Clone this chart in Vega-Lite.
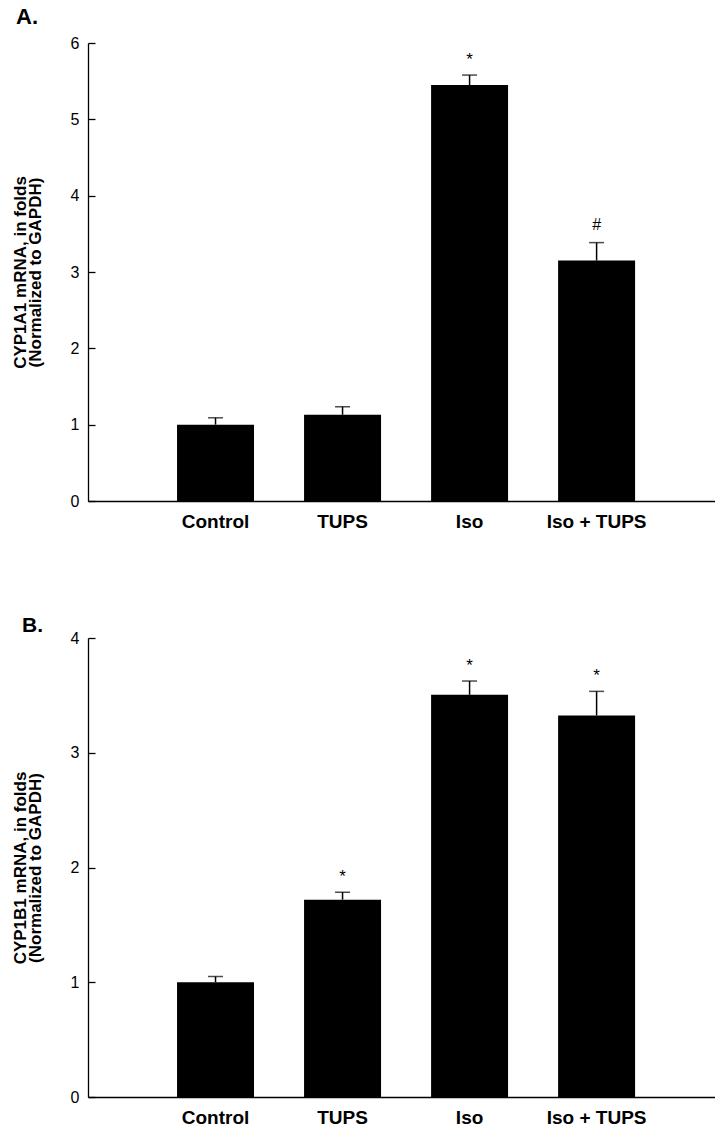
{
  "$schema": "https://vega.github.io/schema/vega-lite/v6.json",
  "background": "white",
  "padding": {"left": 11, "top": 6, "right": 0, "bottom": 0},
  "spacing": 84,
  "config": {
    "font": "Liberation Sans",
    "view": {"stroke": null},
    "axis": {"grid": false, "domainColor": "black", "domainWidth": 1.3, "tickColor": "black", "tickWidth": 1.3, "labelColor": "black", "titleColor": "black"}
  },
  "datasets": {
    "panelA": [
      {"group": "Control", "mean": 1.0, "upper": 1.09, "sig": ""},
      {"group": "TUPS", "mean": 1.13, "upper": 1.235, "sig": ""},
      {"group": "Iso", "mean": 5.45, "upper": 5.58, "sig": "*"},
      {"group": "Iso + TUPS", "mean": 3.15, "upper": 3.385, "sig": "#"}
    ],
    "panelB": [
      {"group": "Control", "mean": 1.0, "upper": 1.05, "sig": ""},
      {"group": "TUPS", "mean": 1.72, "upper": 1.785, "sig": "*"},
      {"group": "Iso", "mean": 3.505, "upper": 3.625, "sig": "*"},
      {"group": "Iso + TUPS", "mean": 3.325, "upper": 3.535, "sig": "*"}
    ]
  },
  "vconcat": [
    {
      "title": {"text": "A.", "anchor": "start", "frame": "group", "dx": -72, "offset": 6, "fontSize": 22, "fontWeight": "bold", "color": "black"},
      "width": 627,
      "height": 458,
      "data": {"name": "panelA"},
      "encoding": {
        "x": {"field": "group", "type": "nominal", "sort": null,
          "scale": {"domain": ["Control", "TUPS", "Iso", "Iso + TUPS"], "paddingInner": 0.394, "paddingOuter": 0.665, "align": 0.527},
          "axis": {"title": null, "ticks": false, "labelAngle": 0, "labelFontSize": 19, "labelFontWeight": "bold", "labelPadding": 11}}
      },
      "layer": [
        {"mark": {"type": "bar", "color": "black"},
          "encoding": {"y": {"field": "mean", "type": "quantitative", "scale": {"domain": [0, 6]},
            "axis": {"title": ["CYP1A1 mRNA, in folds", "(Normalized to GAPDH)"], "values": [0, 1, 2, 3, 4, 5, 6], "format": "d", "tickSize": -7, "labelPadding": 16, "labelFontSize": 16, "titleFontSize": 17, "titleFontWeight": "bold", "titleLineHeight": 15, "titlePadding": 26}}}},
        {"mark": {"type": "rule", "color": "black", "strokeWidth": 1.5},
          "encoding": {"y": {"field": "mean", "type": "quantitative"}, "y2": {"field": "upper"}}},
        {"mark": {"type": "tick", "color": "black", "size": 15, "thickness": 1.5},
          "encoding": {"y": {"field": "upper", "type": "quantitative"}}},
        {"transform": [{"filter": "datum.sig === '*'"}],
          "mark": {"type": "text", "fontSize": 17, "baseline": "alphabetic", "dy": -10, "color": "black"},
          "encoding": {"y": {"field": "upper", "type": "quantitative"}, "text": {"field": "sig"}}},
        {"transform": [{"filter": "datum.sig === '#'"}],
          "mark": {"type": "text", "fontSize": 16, "baseline": "alphabetic", "dy": -13, "color": "black"},
          "encoding": {"y": {"field": "upper", "type": "quantitative"}, "text": {"field": "sig"}}}
      ]
    },
    {
      "title": {"text": "B.", "anchor": "start", "frame": "group", "dx": -66, "offset": -6, "fontSize": 21, "fontWeight": "bold", "color": "black"},
      "width": 627,
      "height": 459,
      "data": {"name": "panelB"},
      "encoding": {
        "x": {"field": "group", "type": "nominal", "sort": null,
          "scale": {"domain": ["Control", "TUPS", "Iso", "Iso + TUPS"], "paddingInner": 0.394, "paddingOuter": 0.665, "align": 0.527},
          "axis": {"title": null, "ticks": false, "labelAngle": 0, "labelFontSize": 19, "labelFontWeight": "bold", "labelPadding": 11}}
      },
      "layer": [
        {"mark": {"type": "bar", "color": "black"},
          "encoding": {"y": {"field": "mean", "type": "quantitative", "scale": {"domain": [0, 4]},
            "axis": {"title": ["CYP1B1 mRNA, in folds", "(Normalized to GAPDH)"], "values": [0, 1, 2, 3, 4], "format": "d", "tickSize": -7, "labelPadding": 16, "labelFontSize": 16, "titleFontSize": 17, "titleFontWeight": "bold", "titleLineHeight": 15, "titlePadding": 26}}}},
        {"mark": {"type": "rule", "color": "black", "strokeWidth": 1.5},
          "encoding": {"y": {"field": "mean", "type": "quantitative"}, "y2": {"field": "upper"}}},
        {"mark": {"type": "tick", "color": "black", "size": 15, "thickness": 1.5},
          "encoding": {"y": {"field": "upper", "type": "quantitative"}}},
        {"transform": [{"filter": "datum.sig === '*'"}],
          "mark": {"type": "text", "fontSize": 17, "baseline": "alphabetic", "dy": -10, "color": "black"},
          "encoding": {"y": {"field": "upper", "type": "quantitative"}, "text": {"field": "sig"}}}
      ]
    }
  ]
}
